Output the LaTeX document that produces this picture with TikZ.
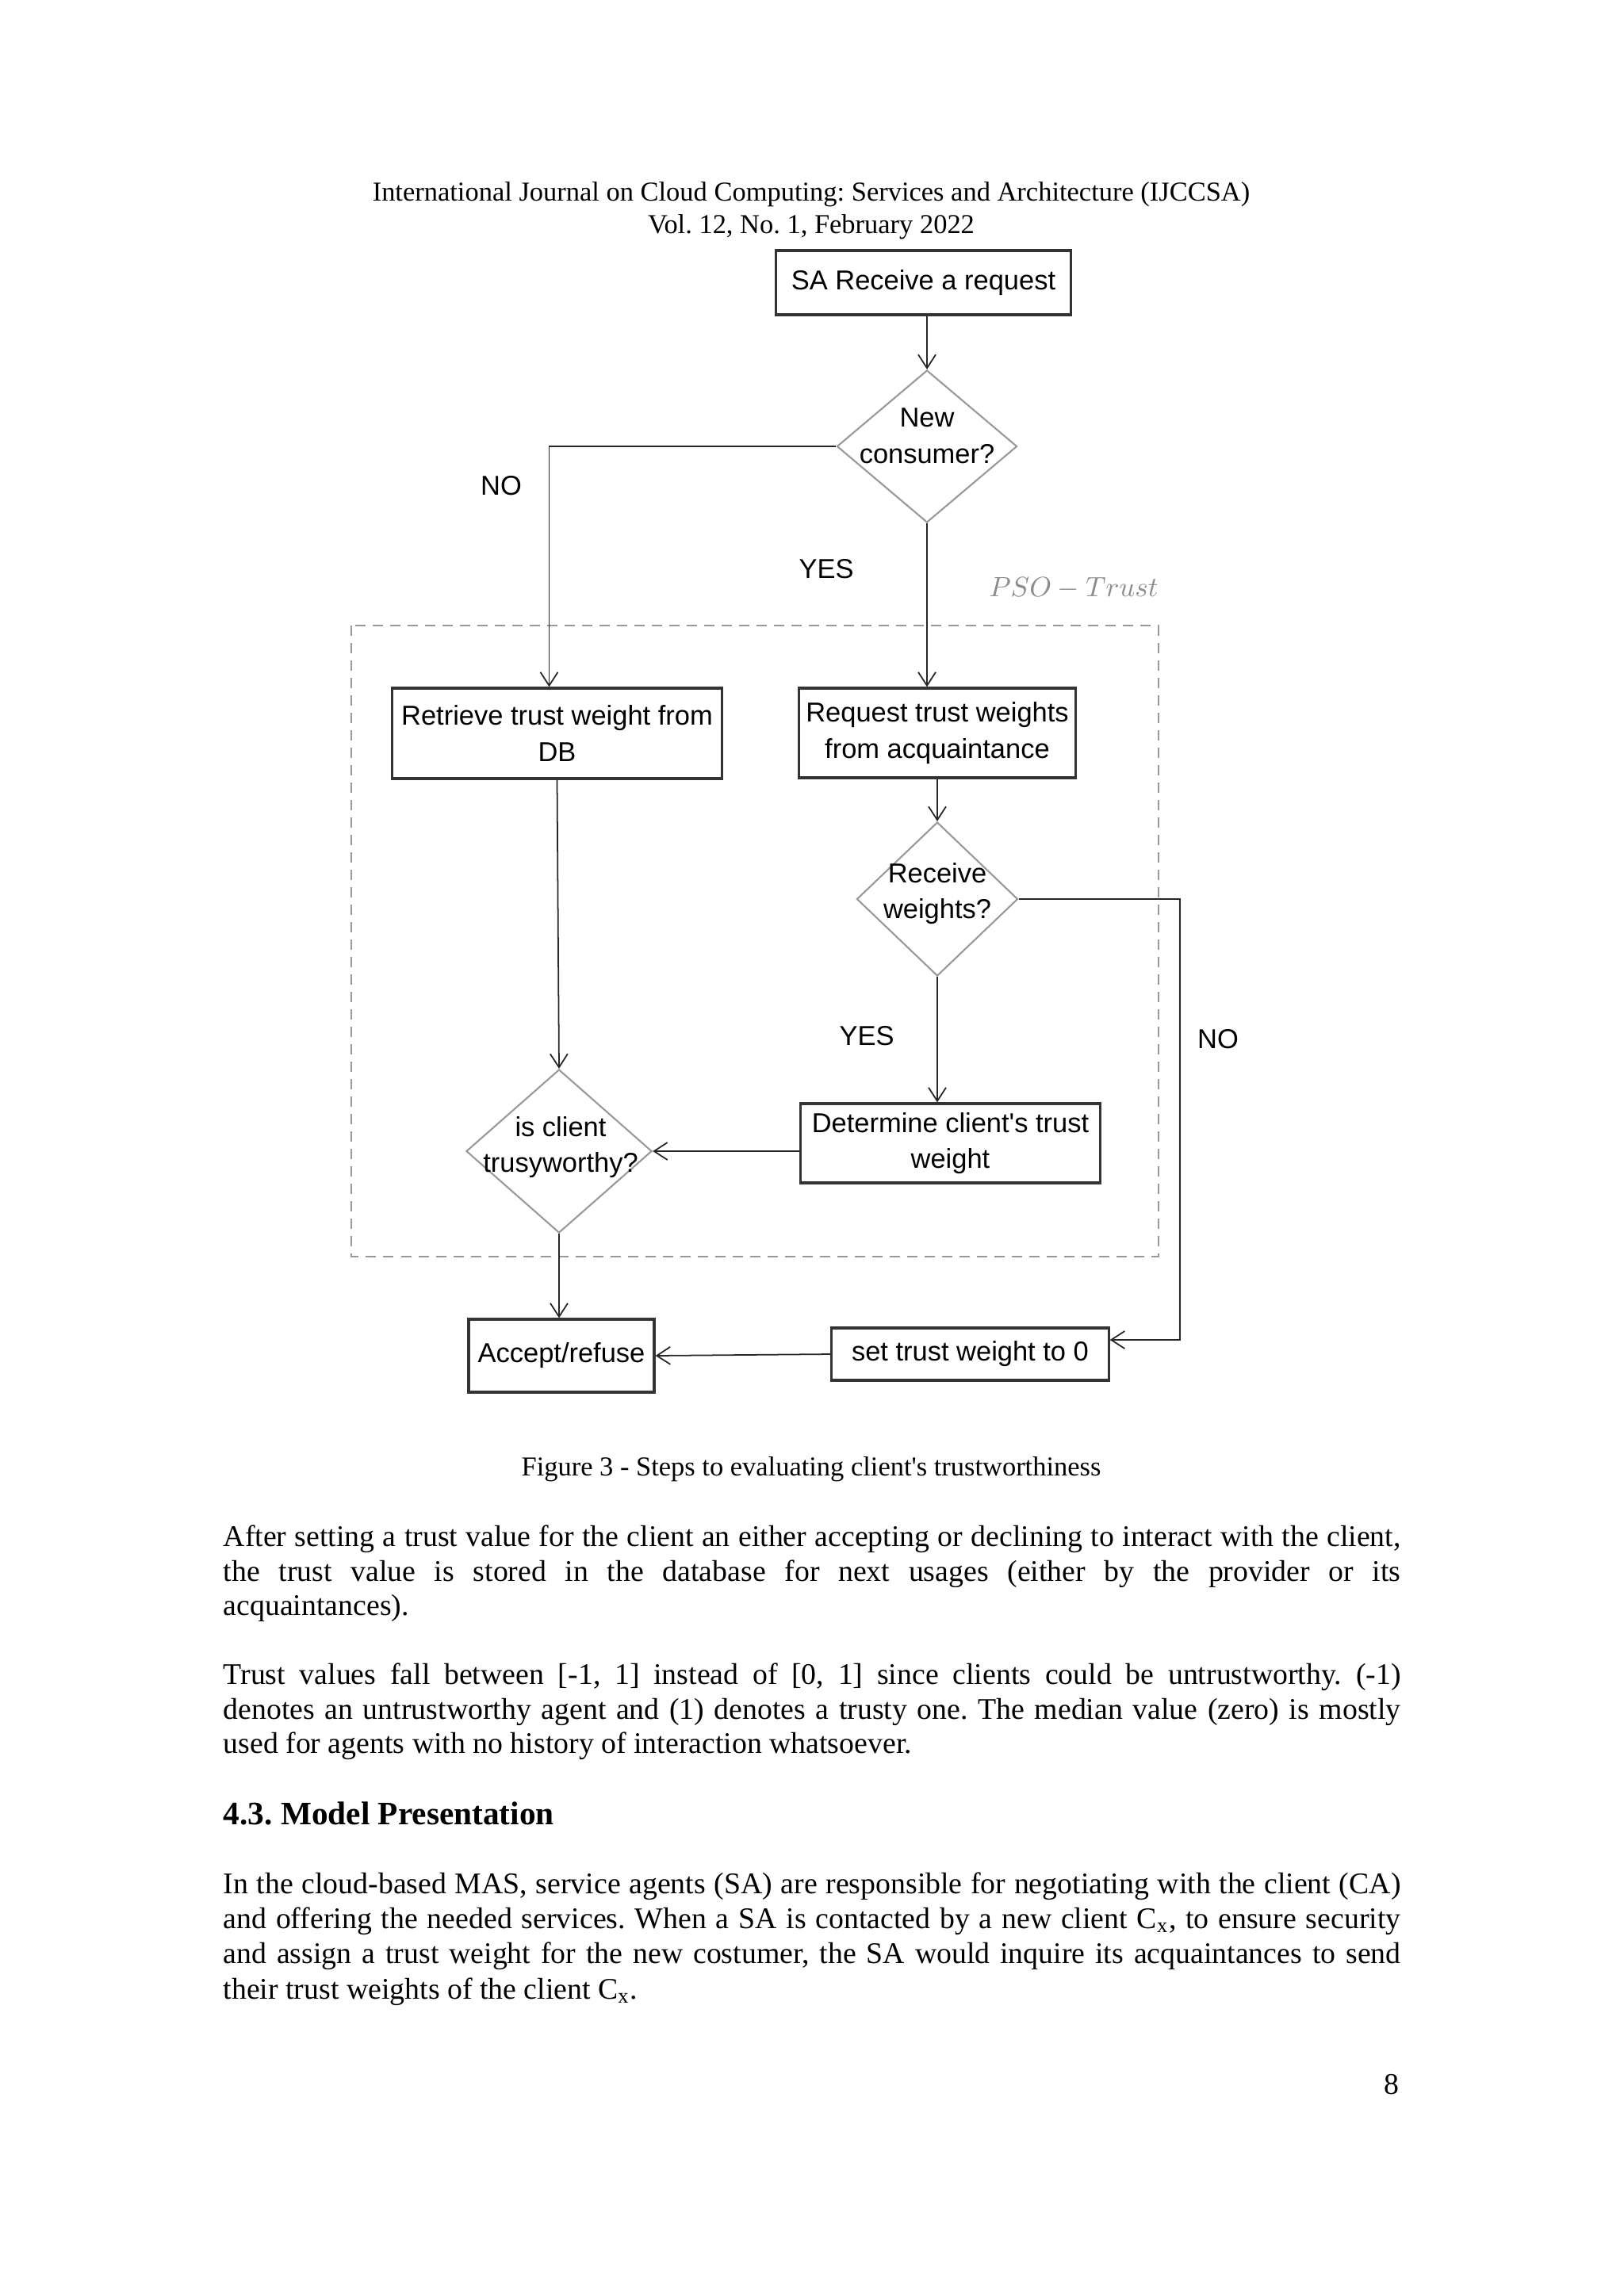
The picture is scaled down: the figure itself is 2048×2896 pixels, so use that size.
\documentclass[tikz,border=0pt]{standalone}
\usepackage{fontspec}
\setmainfont{Liberation Serif}
\newfontfamily\diagfont{Liberation Sans}
\usetikzlibrary{shapes.geometric,arrows.meta}
\frenchspacing
\begin{document}
\begin{tikzpicture}[x=0.01cm,y=-0.01cm,
  box/.style={draw=black!80, line width=0.9pt, rectangle, align=center, inner sep=0pt,
    font=\diagfont\fontsize{9.8}{13}\selectfont},
  dia/.style={draw=black!40, line width=0.6pt, diamond, inner sep=0pt},
  dtext/.style={align=center, inner sep=0pt, font=\diagfont\fontsize{9.8}{13}\selectfont},
  lab/.style={inner sep=0pt, font=\diagfont\fontsize{9.8}{13}\selectfont},
  arr/.style={draw=black!85, line width=0.5pt, -{Straight Barb[length=1.7mm,width=2.2mm]}},
  body/.style={inner sep=0pt, anchor=base west, font=\frenchspacing\fontsize{10.75}{12.5}\selectfont},
  ctext/.style={inner sep=0pt, anchor=base, font=\frenchspacing\fontsize{9.8}{12}\selectfont},
  psobox/.style={draw=black!40, line width=0.6pt, dash pattern=on 0.13cm off 0.09cm}
]
\useasboundingbox (0,0) rectangle (2048,2896);
\fill[white] (0,0) rectangle (2048,2896);

% header
\node[ctext] (h1) at (1023,253) {International Journal on Cloud Computing: Services and Architecture (IJCCSA)};
\node[ctext] (h2) at (1023,294) {Vol. 12, No. 1, February 2022};

% PSO region
\draw[psobox] (443,789) rectangle (1461,1585);
\node[inner sep=0pt, text=black!45, font=\fontsize{10.3}{12}\selectfont] (pso) at (1354,742) {$PSO - Trust$};

% nodes
\node[box, minimum width=3.71cm, minimum height=0.81cm] (sa) at (1164.5,356.5) {SA Receive a request};
\node[dia, minimum width=2.27cm, minimum height=1.92cm] (d1) at (1169,563) {};
\node[dtext] (d1t) at (1169,550) {New\\consumer?};

\node[box, minimum width=4.15cm, minimum height=1.14cm] (ret) at (702.5,925) {Retrieve trust weight from\\DB};
\node[box, minimum width=3.48cm, minimum height=1.13cm] (req) at (1182,924.5) {Request trust weights\\from acquaintance};

\node[dia, minimum width=2.03cm, minimum height=1.94cm] (d2) at (1182,1134) {};
\node[dtext] (d2t) at (1182,1127) {Receive\\weights?};

\node[box, minimum width=3.77cm, minimum height=1.0cm] (det) at (1198.5,1442) {Determine client's trust\\weight};

\node[dia, minimum width=2.34cm, minimum height=2.06cm] (d3) at (705,1452) {};
\node[dtext] (d3t) at (707,1447) {is client\\trusyworthy?};

\node[box, minimum width=2.34cm, minimum height=0.92cm] (acc) at (708,1710) {Accept/refuse};
\node[box, minimum width=3.49cm, minimum height=0.66cm] (set) at (1223.5,1708) {set trust weight to 0};

% labels
\node[lab] (no1) at (632,613) {NO};
\node[lab] (yes1) at (1042,718) {YES};
\node[lab] (yes2) at (1093,1307) {YES};
\node[lab] (no2) at (1536,1311) {NO};

\coordinate (nocor) at (1488,1400);

% connectors
\draw[arr] (sa.south -| d1.north) -- (d1.north);
\draw[arr] (d1.west) -| ([xshift=-0.1cm]ret.north);
\draw[arr] (d1.south) -- (d1.south |- req.north);
\draw[arr] (req.south) -- (d2.north);
\draw[arr] (d2.east) -| (nocor) |- ([yshift=0.18cm]set.east);
\draw[arr] (d2.south) -- (d2.south |- det.north);
\draw[arr] (det.west |- d3.east) -- (d3.east);
\draw[arr] (ret.south) -- (d3.north);
\draw[arr] (d3.south) -- (d3.south |- acc.north);
\draw[arr] (set.west) -- (acc.east);

% caption
\node[ctext] (cap) at (1023,1861) {Figure 3 - Steps to evaluating client\textquotesingle s trustworthiness};

% paragraph 1
\node[body] (p1a) at (281,1950) {\makebox[14.84cm][s]{After setting a trust value for the client an either accepting or declining to interact with the client,}};
\node[body] (p1b) at (281,1994) {\makebox[14.84cm][s]{the trust value is stored in the database for next usages (either by the provider or its}};
\node[body] (p1c) at (281,2037) {acquaintances).};

% paragraph 2
\node[body] (p2a) at (281,2124) {\makebox[14.84cm][s]{Trust values fall between [-1, 1] instead of [0, 1] since clients could be untrustworthy. (-1)}};
\node[body] (p2b) at (281,2168) {\makebox[14.84cm][s]{denotes an untrustworthy agent and (1) denotes a trusty one. The median value (zero) is mostly}};
\node[body] (p2c) at (281,2211) {used for agents with no history of interaction whatsoever.};

% heading
\node[body, font=\bfseries\fontsize{11.75}{12.5}\selectfont] (hd) at (281,2301) {4.3. Model Presentation};

% paragraph 3
\node[body] (p3a) at (281,2388) {\makebox[14.84cm][s]{In the cloud-based MAS, service agents (SA) are responsible for negotiating with the client (CA)}};
\node[body] (p3b) at (281,2432) {\makebox[14.84cm][s]{and offering the needed services. When a SA is contacted by a new client C\textsubscript{x}, to ensure security}};
\node[body] (p3c) at (281,2476) {\makebox[14.84cm][s]{and assign a trust weight for the new costumer, the SA would inquire its acquaintances to send}};
\node[body] (p3d) at (281,2521) {their trust weights of the client C\textsubscript{x}.};

% page number
\node[inner sep=0pt, anchor=base east, font=\fontsize{10.75}{12.5}\selectfont] (pg) at (1765,2641) {8};
\end{tikzpicture}
\end{document}
